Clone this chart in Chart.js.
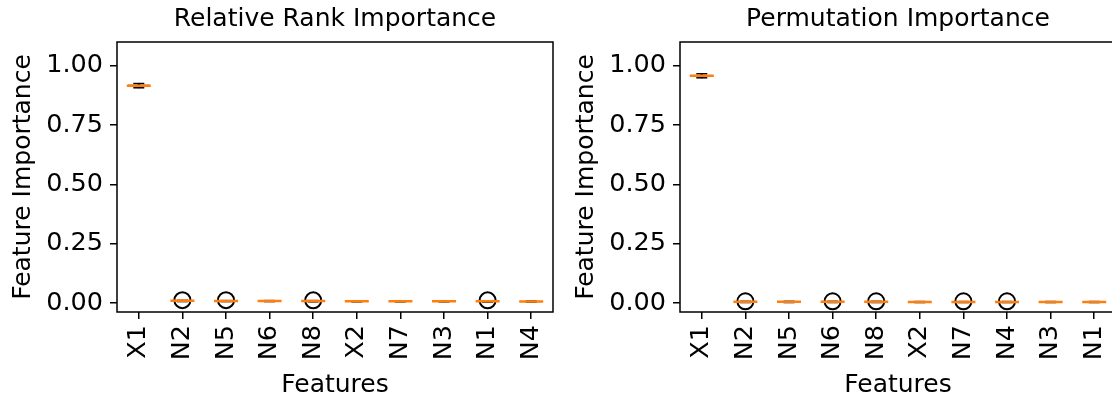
<!DOCTYPE html>
<html>
<head>
<meta charset="utf-8">
<script src="https://cdn.jsdelivr.net/npm/chart.js@4.4.1/dist/chart.umd.min.js"></script>
<style>
  html, body { margin: 0; padding: 0; background: #fff; overflow: hidden; width: 1112px; height: 400px; }
  #wrap { position: relative; width: 1112px; height: 400px; overflow: hidden; }
  .panel { position: absolute; top: 0; height: 400px; }
  #p1 { left: 0; width: 556px; }
  #p2 { left: 563px; width: 567px; }
</style>
</head>
<body>
<div id="wrap">
  <div class="panel" id="p1"><canvas id="c1" width="556" height="400"></canvas></div>
  <div class="panel" id="p2"><canvas id="c2" width="567" height="400"></canvas></div>
</div>
<script>
// Shared y-axis ticks
const yTicks = [0, 0.25, 0.5, 0.75, 1.0];

// Relative rank importance (box summaries per feature)
const rankFeatures = ['X1', 'N2', 'N5', 'N6', 'N8', 'X2', 'N7', 'N3', 'N1', 'N4'];
const rankQ1     = [0.911, 0.007, 0.007, 0.007, 0.006, 0.006, 0.006, 0.006, 0.005, 0.005];
const rankMedian = [0.916, 0.009, 0.008, 0.008, 0.008, 0.007, 0.007, 0.007, 0.007, 0.006];
const rankQ3     = [0.921, 0.010, 0.009, 0.009, 0.009, 0.008, 0.008, 0.008, 0.008, 0.007];
const rankLow    = [0.907, 0.006, 0.006, 0.006, 0.005, 0.005, 0.005, 0.005, 0.004, 0.004];
const rankHigh   = [0.925, 0.011, 0.010, 0.010, 0.010, 0.009, 0.009, 0.009, 0.009, 0.008];
const rankFliers = [null, 0.012, 0.012, null, 0.011, null, null, null, 0.011, null];

// Permutation importance (box summaries per feature)
const permFeatures = ['X1', 'N2', 'N5', 'N6', 'N8', 'X2', 'N7', 'N4', 'N3', 'N1'];
const permQ1     = [0.953, 0.003, 0.003, 0.003, 0.003, 0.003, 0.003, 0.003, 0.003, 0.003];
const permMedian = [0.958, 0.005, 0.005, 0.005, 0.005, 0.004, 0.004, 0.004, 0.004, 0.004];
const permQ3     = [0.962, 0.006, 0.006, 0.006, 0.006, 0.005, 0.005, 0.005, 0.005, 0.005];
const permLow    = [0.949, 0.002, 0.002, 0.002, 0.002, 0.002, 0.002, 0.002, 0.002, 0.002];
const permHigh   = [0.966, 0.007, 0.007, 0.007, 0.007, 0.006, 0.006, 0.006, 0.006, 0.006];
const permFliers = [null, 0.007, null, 0.007, 0.007, null, 0.007, 0.007, null, null];

const FONT = "'DejaVu Sans', 'Liberation Sans', sans-serif";
const TITLE_FS = 25;
const TICK_FS = 25.5;
Chart.defaults.font.family = FONT;
Chart.defaults.color = '#000';

// Draws the four spines around the plot area
const frame = {
  id: 'frame',
  afterDatasetsDraw(chart) {
    const { ctx, chartArea: a } = chart;
    ctx.save();
    ctx.strokeStyle = '#000';
    ctx.lineWidth = 1.5;
    ctx.strokeRect(a.left, a.top, a.right - a.left, a.bottom - a.top);
    ctx.restore();
  }
};

function noPad(s) { s.paddingLeft = 0; s.paddingRight = 0; }

function boxChart(canvasId, title, labels, q1, med, q3, lo, hi, fliers, padRight) {
  const pairs = (a, b) => a.map((v, i) => [v, b[i]]);
  return new Chart(document.getElementById(canvasId), {
    type: 'bar',
    data: {
      labels: labels,
      datasets: [
        { // whiskers
          type: 'bar', data: pairs(lo, hi), backgroundColor: '#000',
          barThickness: 1.5, grouped: false, order: 5
        },
        { // boxes
          type: 'bar', data: pairs(q1, q3), backgroundColor: 'rgba(0,0,0,0)',
          borderColor: '#000', borderWidth: 1.5, borderSkipped: false,
          barPercentage: 0.5, categoryPercentage: 1, grouped: false, order: 4
        },
        { // lower caps
          type: 'line', data: lo, showLine: false, pointStyle: 'line',
          pointRadius: 5.5, pointBorderWidth: 1.5, borderColor: '#000', order: 3
        },
        { // upper caps
          type: 'line', data: hi, showLine: false, pointStyle: 'line',
          pointRadius: 5.5, pointBorderWidth: 1.5, borderColor: '#000', order: 3
        },
        { // fliers
          type: 'line', data: fliers, showLine: false, pointStyle: 'circle',
          pointRadius: 8, pointBorderWidth: 2, borderColor: '#000',
          backgroundColor: 'rgba(0,0,0,0)', order: 1
        },
        { // medians
          type: 'line', data: med, showLine: false, pointStyle: 'line',
          pointRadius: 12, pointBorderWidth: 2.5, borderColor: '#ff7f0e', order: 0
        }
      ]
    },
    options: {
      responsive: false,
      animation: false,
      events: [],
      layout: { autoPadding: false, padding: { left: 0, right: padRight, top: 0, bottom: 0 } },
      plugins: {
        legend: { display: false },
        tooltip: { enabled: false },
        title: { display: false }
      },
      scales: {
        // top axis carries the panel title, centred over the plot area
        top: {
          type: 'category', position: 'top', offset: true,
          grid: { display: false }, border: { display: false },
          ticks: { display: false },
          title: { display: true, text: title, color: '#000',
                   font: { family: FONT, size: TITLE_FS, lineHeight: 1.2 }, padding: { top: 4, bottom: 0 } },
          afterFit(s) { s.height = 42; noPad(s); }
        },
        x: {
          type: 'category', offset: true,
          grid: { offset: false, drawOnChartArea: false, drawTicks: true, tickLength: 7, color: '#000', lineWidth: 1.5 },
          border: { display: false },
          ticks: { maxRotation: 90, minRotation: 90, autoSkip: false, padding: 6,
                   font: { family: FONT, size: TICK_FS }, color: '#000' },
          title: { display: true, text: 'Features', color: '#000',
                   font: { family: FONT, size: TITLE_FS, lineHeight: 1.2 }, padding: { top: 0, bottom: 0 } },
          afterFit(s) { s.height = 88; noPad(s); }
        },
        y: {
          type: 'linear', min: -0.038, max: 1.1,
          grid: { drawOnChartArea: false, drawTicks: true, tickLength: 7, color: '#000', lineWidth: 1.5 },
          border: { display: false },
          afterBuildTicks(s) { s.ticks = yTicks.map(v => ({ value: v })); },
          ticks: { padding: 7, font: { family: FONT, size: TICK_FS }, color: '#000',
                   callback: v => Number(v).toFixed(2) },
          title: { display: true, text: 'Feature Importance', color: '#000',
                   font: { family: FONT, size: TITLE_FS, lineHeight: 1.2 }, padding: { top: 8, bottom: 0 } },
          afterFit(s) { s.width = 117; }
        }
      }
    },
    plugins: [frame]
  });
}

boxChart('c1', 'Relative Rank Importance', rankFeatures,
         rankQ1, rankMedian, rankQ3, rankLow, rankHigh, rankFliers, 3);
boxChart('c2', 'Permutation Importance', permFeatures,
         permQ1, permMedian, permQ3, permLow, permHigh, permFliers, 14);
</script>
</body>
</html>
